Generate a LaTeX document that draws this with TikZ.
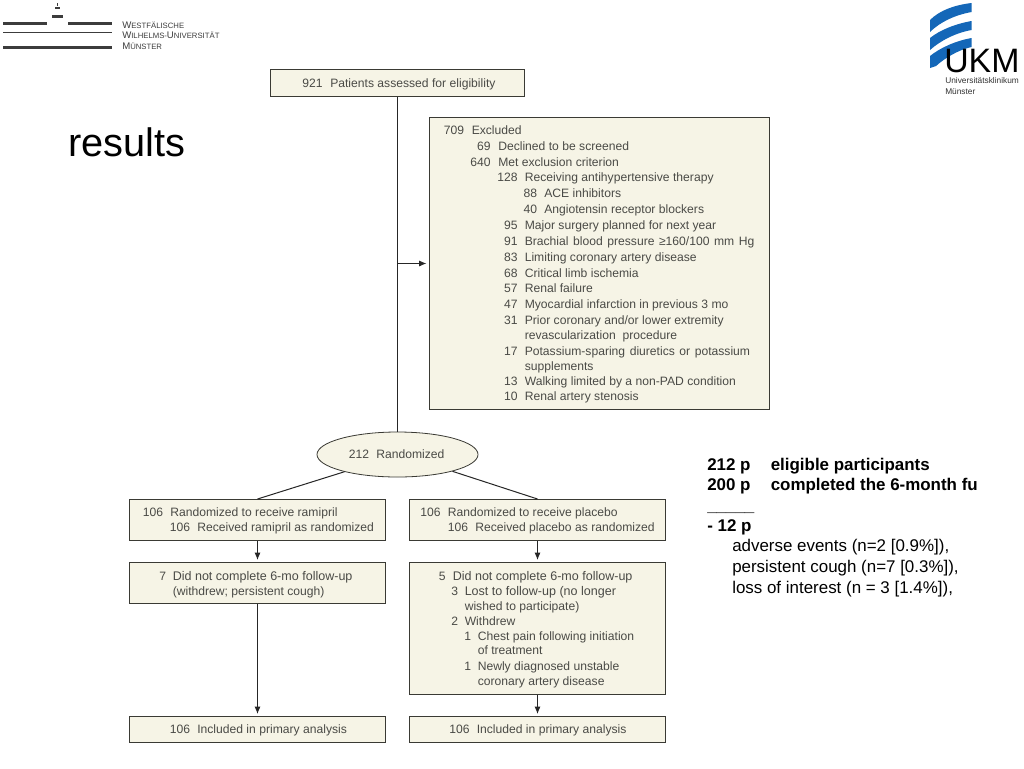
\documentclass[tikz,border=0pt]{standalone}
\usepackage{fontspec}
\setmainfont{Liberation Sans}
\usetikzlibrary{shapes.geometric,arrows.meta}
\definecolor{boxfill}{HTML}{F6F4E6}
\definecolor{boxline}{HTML}{3A3A34}
\definecolor{flowtext}{HTML}{4A4A46}
\definecolor{ukmblue}{HTML}{1467B8}
\definecolor{wwugrey}{HTML}{3C3C3C}
\tikzset{
  flowbox/.style={draw=boxline,fill=boxfill,line width=0.75pt,inner sep=0pt,rectangle},
  flowoval/.style={draw=boxline,fill=boxfill,line width=0.6pt,inner sep=0pt,ellipse},
  flowtxt/.style={inner sep=0pt,text=flowtext,font=\fontsize{9.1pt}{10pt}\selectfont},
  sidetxt/.style={inner sep=0pt,text=black,font=\fontsize{12.7pt}{14pt}\selectfont},
  sidebold/.style={inner sep=0pt,text=black,font=\fontsize{12.7pt}{14pt}\selectfont\bfseries},
  link/.style={draw=black!85,line width=0.75pt},
  arrowlink/.style={link,-{Latex[length=5.5pt,width=4.5pt]}},
  wwutxt/.style={inner sep=0pt,text=wwugrey,anchor=base west},
}
% number right-aligned at #2, text left-aligned at #3, baseline #4
\newcommand{\numline}[6]{%
  \node[flowtxt,anchor=base east] (#1n) at (#2,#4) {#5};
  \node[flowtxt,anchor=base west] (#1t) at (#3,#4) {#6};}
\newcommand{\plainline}[4]{%
  \node[flowtxt,anchor=base west] (#1) at (#2,#3) {#4};}
\newcommand{\fakesc}[2]{{\fontsize{7.2pt}{8pt}\selectfont #1}{\fontsize{5.8pt}{8pt}\selectfont #2}}
\newcommand{\wider}{\fontsize{9.4pt}{10pt}\selectfont}
\begin{document}
\begin{tikzpicture}[x=0.75pt,y=-0.75pt]
\useasboundingbox (0,0) rectangle (1024,768);
\fill[white] (0,0) rectangle (1024,768);

% WWU logo
\fill[wwugrey] (3,22) rectangle (47,25);
\fill[wwugrey] (68,22) rectangle (112,25);
\fill[wwugrey] (3,31.5) rectangle (112,33);
\fill[wwugrey] (3,46) rectangle (112,49);
\fill[wwugrey] (52,15) rectangle (63,18);
\fill[wwugrey] (55,7) rectangle (60,8.5);
\fill[wwugrey] (56.7,3) rectangle (58.3,6);
\node[wwutxt] (wwua) at (122,28.5) {\fakesc{W}{ESTFÄLISCHE}};
\node[wwutxt] (wwub) at (122,38.8) {\fakesc{W}{ILHELMS-}\fakesc{U}{NIVERSITÄT}};
\node[wwutxt] (wwuc) at (122,49.3) {\fakesc{M}{ÜNSTER}};

% UKM logo
\fill[ukmblue] (930,20) .. controls (940,10) and (955,5) .. (971.5,3) -- (971.5,12) .. controls (955,15) and (940,22) .. (930,32) -- cycle;
\fill[ukmblue] (930,38) .. controls (940,30) and (955,24) .. (971.5,21) -- (971.5,30) .. controls (955,33) and (940,41) .. (930,50) -- cycle;
\fill[ukmblue] (930,56) .. controls (940,48) and (955,41) .. (971.5,38) -- (971.5,47) .. controls (958,50) and (945,58) .. (936,66) -- (930,68) -- cycle;
\node[inner sep=0pt,anchor=base west,text=black,text depth=0pt,font=\fontsize{25.4pt}{27pt}\selectfont] (ukm) at (944,72.7) {UKM};
\node[inner sep=0pt,anchor=base west,text=black!80,text height=5pt,text depth=0pt,font=\fontsize{6.25pt}{8pt}\selectfont] (ukma) at (945,83.5) {Universitätsklinikum};
\node[inner sep=0pt,anchor=base west,text=black!80,font=\fontsize{6.25pt}{8pt}\selectfont] (ukmb) at (945,94) {Münster};

% Title
\node[inner sep=0pt,anchor=base west,font=\fontsize{29.8pt}{32pt}\selectfont] (title) at (68,156) {results};

% Boxes
\node[flowbox,minimum width=254*0.75pt,minimum height=27*0.75pt] (top) at (397.5,83) {};
\node[flowbox,minimum width=340*0.75pt,minimum height=292*0.75pt] (excl) at (599.5,263.5) {};
\node[flowoval,minimum width=161*0.75pt,minimum height=45*0.75pt] (rand) at (397.5,454.5) {};
\node[flowbox,minimum width=256*0.75pt,minimum height=41*0.75pt] (ramA) at (257.5,520) {};
\node[flowbox,minimum width=256*0.75pt,minimum height=41*0.75pt] (plaA) at (537.5,520) {};
\node[flowbox,minimum width=256*0.75pt,minimum height=41*0.75pt] (ramB) at (257.5,583) {};
\node[flowbox,minimum width=256*0.75pt,minimum height=132*0.75pt] (plaB) at (537.5,628.5) {};
\node[flowbox,minimum width=256*0.75pt,minimum height=26*0.75pt] (ramC) at (257.5,729.5) {};
\node[flowbox,minimum width=256*0.75pt,minimum height=26*0.75pt] (plaC) at (537.5,729.5) {};

% Connectors
\draw[link] (top.south) -- (rand.north);
\coordinate (branch) at (top.south |- excl.west);
\coordinate (exclin) at ([xshift=-2.5*0.75pt]excl.west);
\draw[arrowlink] (branch) -- (exclin);
\draw[link] (rand.-162) -- (ramA.north);
\draw[link] (rand.-17) -- (plaA.north);
\draw[arrowlink,shorten >=1.5pt] (ramA.south) -- (ramB.north);
\draw[arrowlink,shorten >=1.5pt] (plaA.south) -- (plaB.north);
\draw[arrowlink,shorten >=1.5pt] (ramB.south) -- (ramC.north);
\draw[arrowlink,shorten >=1.5pt] (plaB.south) -- (plaC.north);

% Top & oval text
\numline{a}{323}{330}{87}{921}{Patients assessed for eligibility}
\numline{b}{369.5}{376}{458}{212}{Randomized}

% Exclusion text
\numline{c}{464.5}{471.5}{134.5}{709}{Excluded}
\numline{d}{491}{498}{150.5}{69}{Declined to be screened}
\numline{e}{491}{498}{166}{640}{Met exclusion criterion}
\numline{f}{518}{524.5}{181.5}{128}{Receiving antihypertensive therapy}
\numline{g}{537.5}{544}{197.5}{88}{ACE inhibitors}
\numline{h}{537.5}{544}{213.5}{40}{Angiotensin receptor blockers}
\numline{i}{518}{524.5}{229}{95}{Major surgery planned for next year}
\numline{j}{518}{524.5}{245}{91}{\spaceskip=3.4pt Brachial blood pressure ≥160/100 mm Hg}
\numline{k}{518}{524.5}{261.5}{83}{Limiting coronary artery disease}
\numline{l}{518}{524.5}{277.5}{68}{Critical limb ischemia}
\numline{m}{518}{524.5}{292.5}{57}{Renal failure}
\numline{n}{518}{524.5}{308.5}{47}{Myocardial infarction in previous 3 mo}
\numline{o}{518}{524.5}{324.5}{31}{Prior coronary and/or lower extremity}
\plainline{p}{524.5}{339.5}{revascularization\ \ procedure}
\numline{q}{518}{524.5}{355}{17}{\spaceskip=3.4pt Potassium-sparing diuretics or potassium}
\plainline{r}{524.5}{370}{supplements}
\numline{s}{518}{524.5}{385.5}{13}{Walking limited by a non-PAD condition}
\numline{u}{518}{524.5}{400.5}{10}{Renal artery stenosis}

% Arm text
\numline{va}{163.5}{170}{516}{106}{Randomized to receive ramipril}
\numline{vb}{190.5}{197}{531}{106}{Received ramipril as randomized}
\numline{wa}{441}{447.5}{516}{106}{Randomized to receive placebo}
\numline{wb}{468.5}{475}{531}{106}{Received placebo as randomized}
\numline{xa}{166.5}{172.5}{580}{7}{\wider Did not complete 6-mo follow-up}
\plainline{xb}{172.5}{595}{(withdrew; persistent cough)}
\numline{ya}{446}{452.5}{580}{5}{\wider Did not complete 6-mo follow-up}
\numline{yb}{458.5}{464.5}{595}{3}{\wider Lost to follow-up (no longer}
\plainline{yc}{464.5}{610}{wished to participate)}
\numline{yd}{458.5}{464.5}{625}{2}{Withdrew}
\numline{ye}{471.5}{477.5}{640.5}{1}{Chest pain following initiation}
\plainline{yf}{477.5}{654.5}{of treatment}
\numline{yg}{471.5}{477.5}{670.5}{1}{Newly diagnosed unstable}
\plainline{yh}{477.5}{685.5}{coronary artery disease}
\numline{za}{190.5}{197}{733}{106}{Included in primary analysis}
\numline{zb}{470}{476.5}{733}{106}{Included in primary analysis}

% Side notes
\node[sidebold,anchor=base west] (s1a) at (707,470.5) {212 p};
\node[sidebold,anchor=base west] (s1b) at (770.5,470.5) {eligible participants};
\node[sidebold,anchor=base west] (s2a) at (707,490.5) {200 p};
\node[sidebold,anchor=base west] (s2b) at (770.5,490.5) {completed the 6-month fu};
\node[sidebold,anchor=base west] (s3) at (707,511) {\_\_\_\_\_};
\node[sidebold,anchor=base west] (s4) at (707,531.5) {- 12 p};
\node[sidetxt,anchor=base west] (s5) at (732,551.5) {adverse events (n=2 [0.9\%]),};
\node[sidetxt,anchor=base west] (s6) at (732,572.5) {persistent cough (n=7 [0.3\%]),};
\node[sidetxt,anchor=base west] (s7) at (732,593) {loss of interest (n = 3 [1.4\%]),};
\end{tikzpicture}
\end{document}
